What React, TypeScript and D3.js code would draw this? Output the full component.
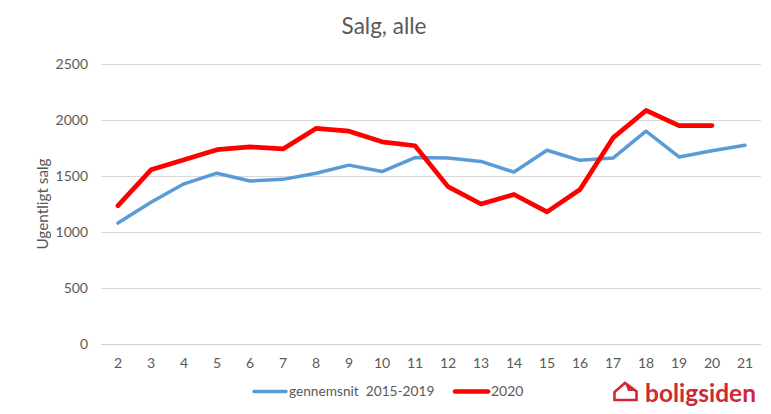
import React, { useEffect, useRef } from "react";
import * as d3 from "d3";

const weeks = ["2", "3", "4", "5", "6", "7", "8", "9", "10", "11", "12", "13", "14", "15", "16", "17", "18", "19", "20", "21"];
const average = [1080, 1265, 1430, 1525, 1455, 1470, 1525, 1597, 1540, 1665, 1660, 1630, 1535, 1730, 1640, 1660, 1900, 1670, 1725, 1775];
const sales2020 = [1235, 1555, 1645, 1735, 1760, 1742, 1925, 1900, 1805, 1770, 1405, 1250, 1335, 1180, 1380, 1840, 2085, 1950, 1950];
const yTicks = [0, 500, 1000, 1500, 2000, 2500];

const width = 771;
const height = 414;
const font = "Lato, 'Open Sans', sans-serif";
const grey = "#595959";

export default function App() {
  const ref = useRef<SVGSVGElement>(null);

  useEffect(() => {
    const svg = d3.select(ref.current);
    svg.selectAll("*").remove();

    const x = d3.scalePoint<string>().domain(weeks).range([118, 745]);
    const y = d3.scaleLinear().domain([0, 2500]).range([344, 64]);

    // title
    svg.append("text")
      .attr("x", 384).attr("y", 34)
      .attr("text-anchor", "middle")
      .attr("font-size", 22.5)
      .attr("fill", grey)
      .text("Salg, alle");

    // gridlines
    svg.append("g").selectAll("line")
      .data(yTicks)
      .enter().append("line")
      .attr("x1", 101).attr("x2", 761)
      .attr("y1", (d) => y(d) + 0.5).attr("y2", (d) => y(d) + 0.5)
      .attr("stroke", (d) => (d === 0 ? "#d0d0d0" : "#d9d9d9"))
      .attr("stroke-width", 1);

    // y labels
    svg.append("g").selectAll("text")
      .data(yTicks)
      .enter().append("text")
      .attr("x", 88).attr("y", (d) => y(d) + 5)
      .attr("text-anchor", "end")
      .attr("font-size", 14)
      .attr("fill", grey)
      .text((d) => d);

    // x labels
    svg.append("g").selectAll("text")
      .data(weeks)
      .enter().append("text")
      .attr("x", (d) => x(d)!).attr("y", 368)
      .attr("text-anchor", "middle")
      .attr("font-size", 14)
      .attr("fill", grey)
      .text((d) => d);

    // y axis title
    svg.append("text")
      .attr("transform", "translate(48,204) rotate(-90)")
      .attr("text-anchor", "middle")
      .attr("font-size", 15.3)
      .attr("fill", grey)
      .text("Ugentligt salg");

    const line = d3.line<number>()
      .x((_d, i) => x(weeks[i])!)
      .y((d) => y(d));

    svg.append("path")
      .attr("d", line(average))
      .attr("fill", "none")
      .attr("stroke", "#5b9bd5")
      .attr("stroke-width", 3.5)
      .attr("stroke-linecap", "round")
      .attr("stroke-linejoin", "round");

    svg.append("path")
      .attr("d", line(sales2020))
      .attr("fill", "none")
      .attr("stroke", "#ff0000")
      .attr("stroke-width", 4.7)
      .attr("stroke-linecap", "round")
      .attr("stroke-linejoin", "round");

    // legend
    svg.append("line")
      .attr("x1", 254).attr("x2", 286).attr("y1", 391.5).attr("y2", 391.5)
      .attr("stroke", "#5b9bd5").attr("stroke-width", 3.5).attr("stroke-linecap", "round");
    svg.append("text")
      .attr("x", 289).attr("y", 396)
      .attr("font-size", 13.7).attr("fill", grey)
      .attr("xml:space", "preserve")
      .text("gennemsnit  2015-2019");
    svg.append("line")
      .attr("x1", 455).attr("x2", 488).attr("y1", 391.5).attr("y2", 391.5)
      .attr("stroke", "#ff0000").attr("stroke-width", 4.7).attr("stroke-linecap", "round");
    svg.append("text")
      .attr("x", 491).attr("y", 396)
      .attr("font-size", 14).attr("fill", grey)
      .text("2020");

    // logo
    const logoRed = "#cf2a33";
    svg.append("path")
      .attr("d", "M614.5 400 L614.5 392 L625 383 L636.5 391.5 L636.5 400 Z")
      .attr("fill", "none")
      .attr("stroke", logoRed)
      .attr("stroke-width", 2.6);
    svg.append("path")
      .attr("d", "M625 383 L636 391 L628 391 Z")
      .attr("fill", logoRed);
    svg.append("text")
      .attr("x", 645).attr("y", 402)
      .attr("font-size", 24)
      .attr("font-weight", 700)
      .attr("textLength", 111)
      .attr("lengthAdjust", "spacingAndGlyphs")
      .attr("fill", logoRed)
      .text("boligsiden");
  }, []);

  return (
    <svg
      ref={ref}
      width={width}
      height={height}
      fontFamily={font}
      style={{ position: "absolute", left: 0, top: 0, background: "#fff" }}
    />
  );
}
